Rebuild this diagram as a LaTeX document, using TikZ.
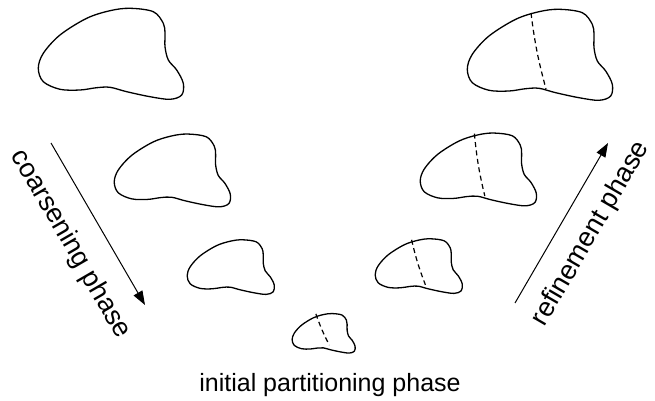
\documentclass[tikz,border=0pt]{standalone}
\usepackage{fontspec}
\setmainfont{Liberation Sans}
\usetikzlibrary{arrows.meta}

\newcommand\blobpath{plot[smooth cycle, tension=0.55] coordinates
  {(92,1.3) (115.3,4.7) (125.3,16.3) (127,26.3) (127,39.7) (130.3,53)
   (138.7,63) (145.3,76.3) (143.7,88) (132,92.3) (112,89.7) (88.7,84.7)
   (72,80.3) (58.7,80.7) (42,83) (22,82.3) (5.3,74.7) (0.3,61.3)
   (5.3,46.3) (22,28) (48.7,11.3) (72,3.7)}}

\tikzset{
  outline/.style={line width=1.3pt, line join=round},
  cut/.style={line width=1.2pt, dash pattern=on 5pt off 3.5pt},
  phase arrow/.style={line width=1pt, -{Triangle[length=14pt, width=10pt]}},
  phase label/.style={sloped, anchor=center, font=\fontsize{27}{32}\selectfont},
  pics/graph/.style={code={
    \draw[outline] \blobpath;
  }},
  pics/cutgraph/.style 2 args={code={
    \draw[outline] \blobpath;
    \draw[cut] #1 to[bend right=4] #2;
  }}
}

\begin{document}
\begin{tikzpicture}[x=1pt, y=-1pt, font=\fontsize{25}{30}\selectfont]
  \useasboundingbox (0,0) rectangle (655,401);
  % coarsening side
  \pic at (38,7) {graph};
  \pic[scale=0.8] at (114,133) {graph};
  \pic[scale=0.6] at (187,239) {graph};
  % initial partitioning
  \pic[scale=0.434] at (292,313) {cutgraph={(55,2)}{(86,74)}};
  % refinement side
  \pic[scale=0.6] at (375,238) {cutgraph={(61,3)}{(84,78)}};
  \pic[scale=0.8] at (420,132) {cutgraph={(68,2)}{(81,80)}};
  \pic at (467,8) {cutgraph={(64,5)}{(79,81)}};

  \coordinate (cs) at (51,143);
  \coordinate (ce) at (145,305);
  \coordinate (rs) at (515,303);
  \coordinate (re) at (608,143);
  \draw[phase arrow] (cs) --
    node[phase label, pos=0.52, yshift=-34pt] {coarsening phase} (ce);
  \draw[phase arrow] (rs) --
    node[phase label, pos=0.53, yshift=-31pt] {refinement phase} (re);
  \node[anchor=base] (ip) at (330,391) {initial partitioning phase};
\end{tikzpicture}
\end{document}
